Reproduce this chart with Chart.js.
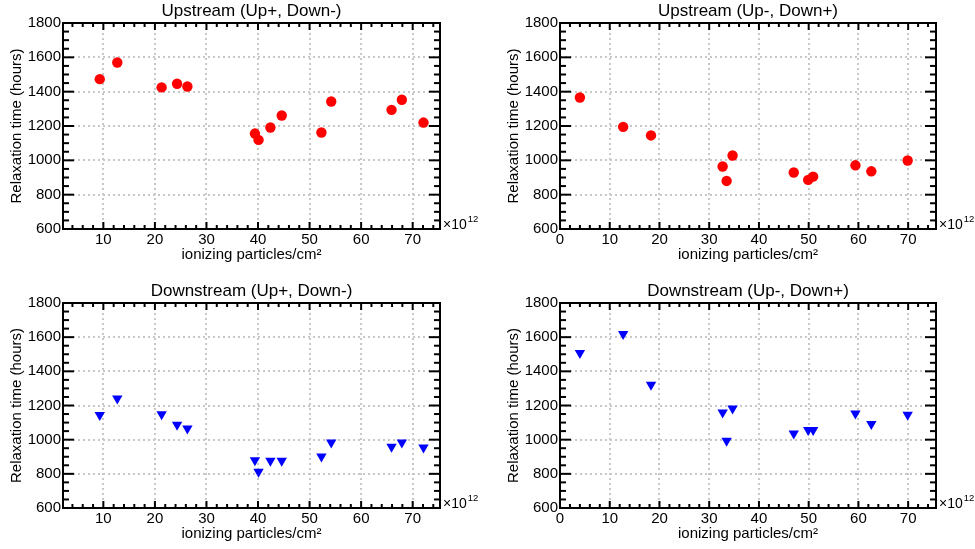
<!DOCTYPE html>
<html>
<head>
<meta charset="utf-8">
<script src="https://cdn.jsdelivr.net/npm/chart.js@4/dist/chart.umd.min.js"></script>
<style>
  body { margin: 0; background: #fff; }
  #wrap { position: relative; width: 975px; height: 549px; }
  canvas { position: absolute; }
</style>
</head>
<body>
<div id="wrap">
  <canvas id="upPM" width="487" height="275" style="left:0;top:0"></canvas>
  <canvas id="upMP" width="488" height="275" style="left:487px;top:0"></canvas>
  <canvas id="downPM" width="487" height="274" style="left:0;top:275px"></canvas>
  <canvas id="downMP" width="488" height="274" style="left:487px;top:275px"></canvas>
</div>
<script>
// fluence in units of 1e12 ionizing particles/cm^2, relaxation time in hours
const fluencePM = [9.3, 12.7, 21.3, 24.3, 26.3, 39.4, 40.1, 42.4, 44.6, 52.3, 54.2, 65.9, 67.9, 72.1];
const upstreamPM = [1473, 1570, 1425, 1446, 1430, 1156, 1119, 1191, 1261, 1162, 1343, 1294, 1353, 1220];
const downstreamPM = [1144, 1241, 1149, 1087, 1066, 880, 812, 876, 876, 902, 984, 958, 984, 954];

const fluenceMP = [4.0, 12.7, 18.3, 32.7, 33.5, 34.7, 47.0, 49.9, 50.9, 59.4, 62.6, 69.9];
const upstreamMP = [1366, 1195, 1145, 964, 880, 1028, 929, 886, 905, 971, 936, 999];
const downstreamMP = [1507, 1618, 1321, 1159, 993, 1183, 1036, 1056, 1056, 1153, 1091, 1146];

const xTicksPM = [10, 20, 30, 40, 50, 60, 70];
const xTicksMP = [0, 10, 20, 30, 40, 50, 60, 70];
const yTicks = [600, 800, 1000, 1200, 1400, 1600, 1800];

const FONT = 'Liberation Sans, Arial, sans-serif';

// box frame with inward ticks on all four sides + the x10^12 exponent
const frameTicks = {
    id: 'frameTicks',
    afterDatasetsDraw(chart) {
        const { ctx, chartArea: a, scales: { x, y } } = chart;
        const line = (x1, y1, x2, y2) => { ctx.beginPath(); ctx.moveTo(x1, y1); ctx.lineTo(x2, y2); ctx.stroke(); };
        ctx.save();
        ctx.strokeStyle = '#000';
        ctx.lineWidth = 2;

        for (let v = Math.ceil(y.min / 50) * 50; v <= y.max; v += 50) {
            const py = y.getPixelForValue(v);
            const len = v % 200 === 0 ? 11 : 6;
            line(a.left, py, a.left + len, py);
            line(a.right, py, a.right - len, py);
        }
        for (let v = Math.ceil(x.min / 2) * 2; v <= x.max; v += 2) {
            const px = x.getPixelForValue(v);
            const len = v % 10 === 0 ? 7 : 4;
            line(px, a.bottom, px, a.bottom - len);
            line(px, a.top, px, a.top + len);
        }
        ctx.strokeRect(a.left, a.top, a.right - a.left, a.bottom - a.top);

        ctx.fillStyle = '#000';
        ctx.textBaseline = 'alphabetic';
        ctx.font = '14px ' + FONT;
        ctx.fillText('×10', a.right + 3, a.bottom);
        const w = ctx.measureText('×10').width;
        ctx.font = '9.5px ' + FONT;
        ctx.fillText('12', a.right + 3 + w + 1, a.bottom - 7);
        ctx.restore();
    }
};

function makePanel(id, title, xs, ys, xTicks, xRange, area, marker) {
    const canvas = document.getElementById(id);
    const W = canvas.width, H = canvas.height;
    const xAxisH = H - area.bottom;

    new Chart(canvas, {
        type: 'scatter',
        data: {
            datasets: [{
                data: xs.map((x, i) => ({ x: x, y: ys[i] })),
                backgroundColor: marker.color,
                borderWidth: 0,
                pointStyle: marker.style,
                pointRadius: marker.radius,
                rotation: marker.rotation
            }]
        },
        options: {
            responsive: false,
            animation: false,
            events: [],
            layout: { padding: { left: 0, top: 0, right: W - area.right, bottom: 0 } },
            plugins: {
                legend: { display: false },
                tooltip: { enabled: false },
                title: {
                    display: true,
                    text: title,
                    fullSize: false,
                    color: '#000',
                    font: { family: FONT, size: 17, weight: 'normal' },
                    padding: { top: area.top - 21.4, bottom: 1 }
                }
            },
            scales: {
                x: {
                    type: 'linear',
                    min: xRange[0],
                    max: xRange[1],
                    afterFit: s => { s.height = xAxisH; },
                    afterBuildTicks: s => { s.ticks = xTicks.map(v => ({ value: v })); },
                    grid: { color: '#c8c8c8', lineWidth: 2, drawTicks: false },
                    border: { display: false, dash: [2, 3] },
                    ticks: { color: '#000', padding: 2, font: { family: FONT, size: 15 }, maxRotation: 0, callback: v => String(v) },
                    title: {
                        display: true,
                        text: 'ionizing particles/cm²',
                        color: '#000',
                        font: { family: FONT, size: 15 },
                        padding: { top: 0, bottom: xAxisH - 26 - 9 }
                    }
                },
                y: {
                    type: 'linear',
                    min: 600,
                    max: 1800,
                    afterFit: s => { s.width = area.left; },
                    afterBuildTicks: s => { s.ticks = yTicks.map(v => ({ value: v })); },
                    grid: { color: '#c8c8c8', lineWidth: 2, drawTicks: false },
                    border: { display: false, dash: [2, 3] },
                    ticks: { color: '#000', padding: 2, font: { family: FONT, size: 15 }, callback: v => String(v) },
                    title: {
                        display: true,
                        text: 'Relaxation time (hours)',
                        color: '#000',
                        font: { family: FONT, size: 15 },
                        padding: { top: area.left - 46 - 9, bottom: 0 }
                    }
                }
            }
        },
        plugins: [frameTicks]
    });
}

const dot = { color: '#ff0000', style: 'circle', radius: 5.2, rotation: 0 };
const tri = { color: '#0000ff', style: 'triangle', radius: 6, rotation: 180 };

makePanel('upPM', 'Upstream (Up+, Down-)', fluencePM, upstreamPM, xTicksPM, [2.17, 75.3],
    { left: 63, top: 23, right: 440, bottom: 229 }, dot);
makePanel('upMP', 'Upstream (Up-, Down+)', fluenceMP, upstreamMP, xTicksMP, [0, 75.6],
    { left: 73, top: 23, right: 449, bottom: 229 }, dot);
makePanel('downPM', 'Downstream (Up+, Down-)', fluencePM, downstreamPM, xTicksPM, [2.17, 75.3],
    { left: 63, top: 28, right: 440, bottom: 233 }, tri);
makePanel('downMP', 'Downstream (Up-, Down+)', fluenceMP, downstreamMP, xTicksMP, [0, 75.6],
    { left: 73, top: 28, right: 449, bottom: 233 }, tri);
</script>
</body>
</html>
